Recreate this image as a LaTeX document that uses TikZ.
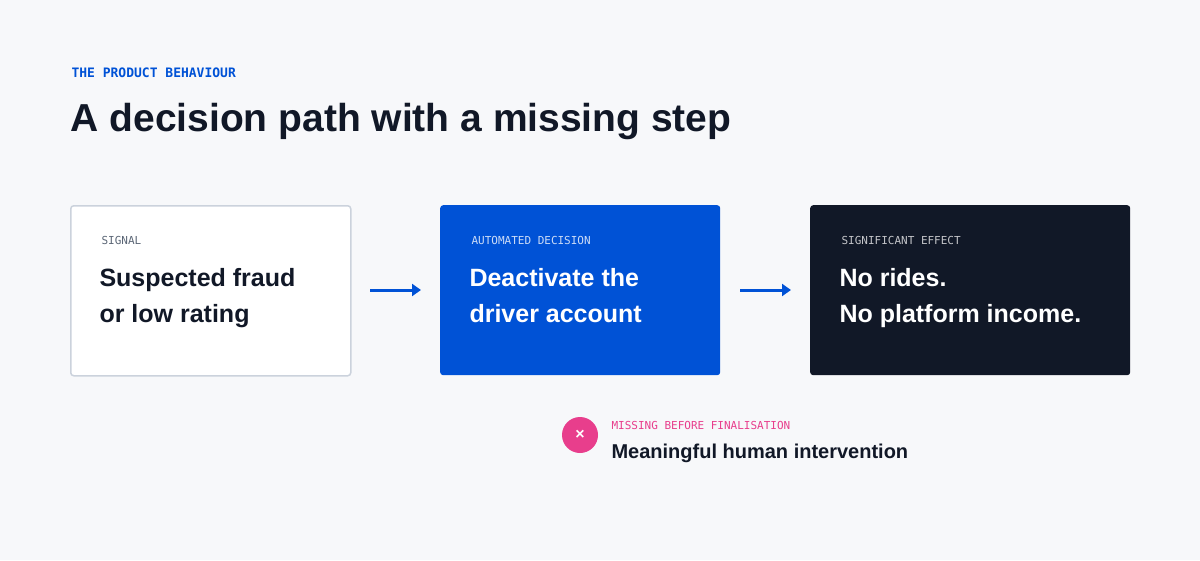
\documentclass[tikz,border=0pt]{standalone}
\usepackage{fontspec}
\setmainfont{Liberation Sans}
\setmonofont{DejaVu Sans Mono}
\usetikzlibrary{arrows.meta}
\definecolor{bg}{HTML}{F7F8FA}
\definecolor{ink}{HTML}{111827}
\definecolor{accent}{HTML}{0052D6}
\definecolor{pinkx}{HTML}{E83E8C}
\definecolor{edge}{HTML}{CBD2DC}
\definecolor{muted}{HTML}{5B6676}
\tikzset{
  card/.style={rounded corners=3pt, minimum width=280pt, minimum height=170pt, anchor=north west},
  tag/.style={anchor=west, font=\ttfamily\fontsize{11}{13}\selectfont},
  body/.style={anchor=north west, align=left, font=\bfseries\fontsize{25}{36}\selectfont},
  flow/.style={-{Triangle[length=9pt,width=12pt]}, accent, line width=3pt}
}
\begin{document}
\begin{tikzpicture}[x=1pt, y=-1pt]
    % Background
    \fill[bg] (0,0) rectangle (1200,560);
    \useasboundingbox (0,0) rectangle (1200,560);

    % Heading
    \node[tag, accent, font=\ttfamily\bfseries\fontsize{13}{15}\selectfont] (kicker) at (68,73) {THE PRODUCT BEHAVIOUR};
    \node[anchor=west, ink, font=\bfseries\fontsize{39}{44}\selectfont] (title) at (67,121) {A decision path with a missing step};

    % Cards
    \node[card, draw=edge, line width=1.5pt, fill=white] (signal) at (70,205) {};
    \node[card, fill=accent] (decision) at (440,205) {};
    \node[card, fill=ink, minimum width=320pt] (effect) at (810,205) {};

    \node[tag, muted] at (98,240) {SIGNAL};
    \node[body, ink] at (96,265) {Suspected fraud\\or low rating};
    \node[tag, white!80!accent] at (468,240) {AUTOMATED DECISION};
    \node[body, white] at (466,265) {Deactivate the\\driver account};
    \node[tag, white!75!ink] at (838,240) {SIGNIFICANT EFFECT};
    \node[body, white] at (836,265) {No rides.\\No platform income.};

    % Arrows
    \coordinate (a1) at (370,290);
    \coordinate (b1) at (421,290);
    \coordinate (a2) at (740,290);
    \coordinate (b2) at (791,290);
    \draw[flow] (a1) -- (b1);
    \draw[flow] (a2) -- (b2);

    % Missing step
    \node[circle, fill=pinkx, minimum size=36pt, inner sep=0pt, text=white, font=\bfseries\fontsize{16}{16}\selectfont] (cross) at (580,435) {×};
    \node[tag, pinkx] (miss) at (608,425) {MISSING BEFORE FINALISATION};
    \node[anchor=west, ink, font=\bfseries\fontsize{20}{24}\selectfont] (human) at (608,453) {Meaningful human intervention};
\end{tikzpicture}
\end{document}
